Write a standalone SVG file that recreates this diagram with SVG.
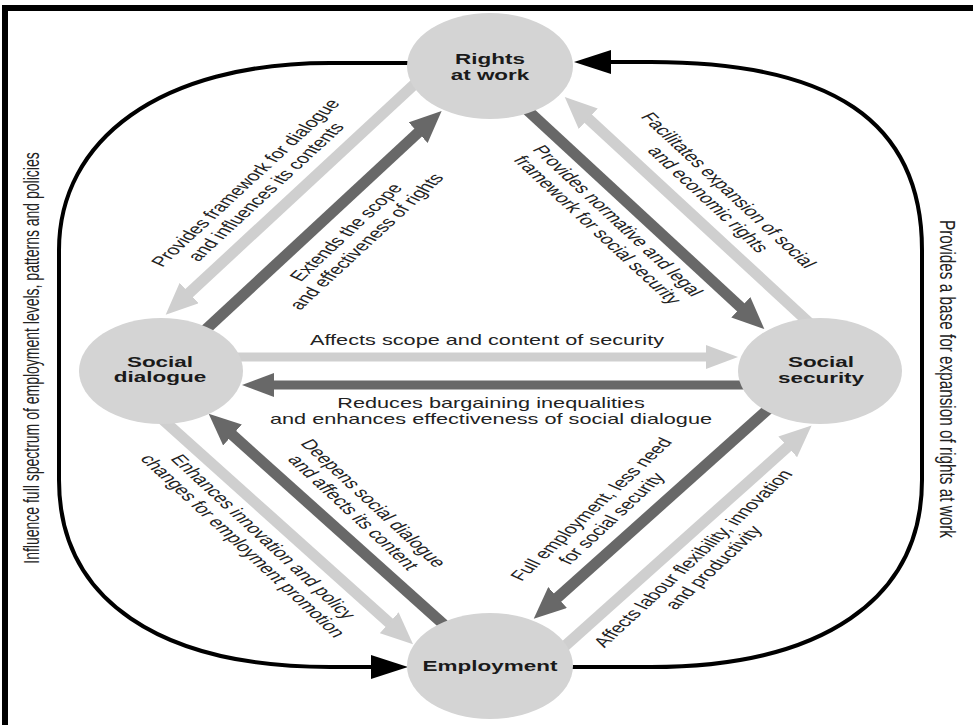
<svg xmlns="http://www.w3.org/2000/svg" width="973" height="725" viewBox="0 0 973 725">
<defs>
<style>
.t{font-family:"Liberation Sans",Arial,sans-serif;font-size:14px;fill:#222;text-anchor:middle}
.n{font-family:"Liberation Sans",Arial,sans-serif;font-size:14.5px;font-weight:bold;fill:#1a1a1a;text-anchor:middle}
.lt{stroke:#cfcfcf;fill:none}
.dk{stroke:#686868;fill:none}
.dg{stroke-width:11}
.hz{stroke-width:9}
.loop{stroke:#000;stroke-width:4;fill:none}
.node{fill:#d4d4d4}
</style>
<marker id="hL" markerUnits="userSpaceOnUse" markerWidth="34" markerHeight="28" viewBox="0 -14 34 28" refX="2" refY="0" orient="auto"><path d="M0,-14 L32,0 L0,14 z" fill="#cfcfcf"/></marker>
<marker id="hD" markerUnits="userSpaceOnUse" markerWidth="34" markerHeight="28" viewBox="0 -14 34 28" refX="2" refY="0" orient="auto"><path d="M0,-14 L32,0 L0,14 z" fill="#686868"/></marker>
<marker id="hLh" markerUnits="userSpaceOnUse" markerWidth="34" markerHeight="26" viewBox="0 -13 34 26" refX="2" refY="0" orient="auto"><path d="M0,-12 L32,0 L0,12 z" fill="#cfcfcf"/></marker>
<marker id="hDh" markerUnits="userSpaceOnUse" markerWidth="34" markerHeight="26" viewBox="0 -13 34 26" refX="2" refY="0" orient="auto"><path d="M0,-12 L32,0 L0,12 z" fill="#686868"/></marker>
<marker id="hB" markerUnits="userSpaceOnUse" markerWidth="40" markerHeight="26" viewBox="0 -13 40 26" refX="2" refY="0" orient="auto"><path d="M0,-12 L37,0 L0,12 z" fill="#000"/></marker>
</defs>
<rect width="973" height="725" fill="#fff"/>
<path d="M5,725 V8 H973" fill="none" stroke="#000" stroke-width="6"/>

<g id="connectors">
  <path class="loop" d="M420,63 H330 C160,63 59,140 59,250 V480 C59,600 160,667 330,667 H373" marker-end="url(#hB)"/>
  <path class="loop" d="M560,667 H651 C821,667 922,600 922,480 V250 C922,120 830,62 651,62 H609" marker-end="url(#hB)"/>
  <path class="lt dg" d="M442.2,58.5 L187.7,294.4" marker-end="url(#hL)"/>
  <path class="dk dg" d="M196.6,338 L419.6,131.3" marker-end="url(#hD)"/>
  <path class="dk dg" d="M499.9,84.7 L742.3,308.7" marker-end="url(#hD)"/>
  <path class="lt dg" d="M817.5,330.5 L586.8,117.4" marker-end="url(#hL)"/>
  <path class="lt hz" d="M235,357 H708" marker-end="url(#hLh)"/>
  <path class="dk hz" d="M745,385 H272" marker-end="url(#hDh)"/>
  <path class="lt dg" d="M152.5,410.5 L390.7,624.1" marker-end="url(#hL)"/>
  <path class="dk dg" d="M443.9,624.7 L231,433.7" marker-end="url(#hD)"/>
  <path class="dk dg" d="M769.3,408.2 L556.1,598.8" marker-end="url(#hD)"/>
  <path class="lt dg" d="M550.6,658.8 L789.2,445.5" marker-end="url(#hL)"/>
  <text class="t" transform="translate(251.4,185.5) scale(1.55,1) rotate(-55)"><tspan x="0">Provides framework for dialogue</tspan><tspan x="0" dy="16">and influences its contents</tspan></text>
  <text class="t" transform="translate(352,235) scale(1.55,1) rotate(-55)"><tspan x="0">Extends the scope</tspan><tspan x="0" dy="16">and effectiveness of rights</tspan></text>
  <text class="t" transform="translate(611.9,223.5) scale(1.55,1) rotate(55)"><tspan x="0">Provides normative and legal</tspan><tspan x="0" dy="16">framework for social security</tspan></text>
  <text class="t" transform="translate(722.6,192.9) scale(1.55,1) rotate(55)"><tspan x="0">Facilitates expansion of social</tspan><tspan x="0" dy="16">and economic rights</tspan></text>
  <text class="t" transform="translate(487,345) scale(1.55,1)">Affects scope and content of security</text>
  <text class="t" transform="translate(491,408) scale(1.55,1)"><tspan x="0">Reduces bargaining inequalities</tspan><tspan x="0" dy="16">and enhances effectiveness of social dialogue</tspan></text>
  <text class="t" transform="translate(257.2,539.3) scale(1.55,1) rotate(55)"><tspan x="0">Enhances innovation and policy</tspan><tspan x="0" dy="16">changes for employment promotion</tspan></text>
  <text class="t" transform="translate(367.6,506) scale(1.55,1) rotate(55)"><tspan x="0">Deepens social dialogue</tspan><tspan x="0" dy="16">and affects its content</tspan></text>
  <text class="t" transform="translate(597.2,512) scale(1.55,1) rotate(-55)"><tspan x="0">Full employment, less need</tspan><tspan x="0" dy="16">for social security</tspan></text>
  <text class="t" transform="translate(698.9,561.1) scale(1.55,1) rotate(-55)"><tspan x="0">Affects labour flexibility, innovation</tspan><tspan x="0" dy="16">and productivity</tspan></text>
  <text class="t" transform="translate(39,358) scale(1.55,1) rotate(-90)">Influence full spectrum of employment levels, patterns and policies</text>
  <text class="t" transform="translate(940,379) scale(1.5,1) rotate(90)" style="font-size:15.3px">Provides a base for expansion of rights at work</text>
</g>

<g id="rights">
  <ellipse class="node" cx="490" cy="66" rx="83" ry="53"/>
  <text class="n" transform="translate(490,64) scale(1.55,1)"><tspan x="0">Rights</tspan><tspan x="0" dy="16">at work</tspan></text>
</g>
<g id="social-dialogue">
  <ellipse class="node" cx="161" cy="371" rx="82" ry="53"/>
  <text class="n" transform="translate(160,367) scale(1.55,1)"><tspan x="0">Social</tspan><tspan x="0" dy="15.5">dialogue</tspan></text>
</g>
<g id="social-security">
  <ellipse class="node" cx="820" cy="371" rx="82" ry="53"/>
  <text class="n" transform="translate(821,367) scale(1.55,1)"><tspan x="0">Social</tspan><tspan x="0" dy="16">security</tspan></text>
</g>
<g id="employment">
  <ellipse class="node" cx="490" cy="666" rx="83" ry="53"/>
  <text class="n" transform="translate(490,671) scale(1.55,1)">Employment</text>
</g>
</svg>
